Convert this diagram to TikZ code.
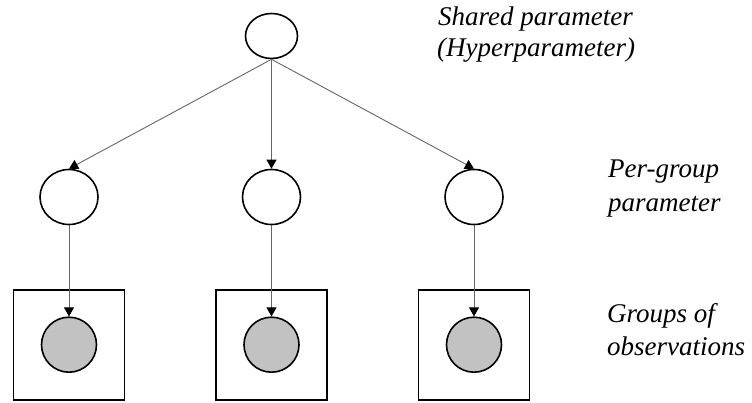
\documentclass[tikz,border=0pt]{standalone}
\usepackage{fontspec}
\setmainfont{Liberation Serif}
\usetikzlibrary{shapes.geometric,arrows.meta}

\tikzset{
  param/.style={ellipse, draw=black, line width=1.6pt, fill=white, inner sep=0pt},
  obs/.style={ellipse, draw=black, line width=1.6pt, fill=lightgray!95!white, inner sep=0pt,
    minimum width=55pt, minimum height=55pt},
  groupbox/.style={rectangle, draw=black, line width=1.5pt, inner sep=0pt,
    minimum width=111pt, minimum height=110pt},
  link/.style={draw=black!60, line width=0.9pt,
    -{Triangle[length=9pt,width=10pt,color=black]}},
  caption/.style={anchor=base west, inner sep=0pt,
    font=\fontsize{27}{32}\selectfont\itshape}
}

\begin{document}
\begin{tikzpicture}[x=1pt,y=-1pt]
  \useasboundingbox (0,0) rectangle (752,403);

  % hyperparameter
  \node[param, minimum width=52pt, minimum height=45pt] (hyper) at (271.5,36) {};

  % per-group parameters
  \node[param, minimum width=58pt, minimum height=55pt] (p1) at (69,197) {};
  \node[param, minimum width=58pt, minimum height=55pt] (p2) at (271.5,197) {};
  \node[param, minimum width=58pt, minimum height=55pt] (p3) at (474,197) {};

  % observation groups
  \node[groupbox] (b1) at (69,345) {};
  \node[groupbox] (b2) at (271.5,345) {};
  \node[groupbox] (b3) at (474.2,345) {};
  \node[obs] (o1) at (69,344.7) {};
  \node[obs] (o2) at (271.5,344.7) {};
  \node[obs] (o3) at (474,344.7) {};

  % dependencies
  \draw[link] (hyper.south) -- (p1.north);
  \draw[link] (hyper.south) -- (p2.north);
  \draw[link] (hyper.south) -- (p3.north);
  \draw[link] (p1.south) -- (o1.north);
  \draw[link] (p2.south) -- (o2.north);
  \draw[link] (p3.south) -- (o3.north);

  % level captions
  \node[caption] (c1a) at (438,26) {Shared parameter};
  \node[caption] (c1b) at (437,57) {(Hyperparameter)};
  \node[caption] (c2a) at (608,178) {Per-group};
  \node[caption] (c2b) at (608,212) {parameter};
  \node[caption] (c3a) at (607,322) {Groups of};
  \node[caption] (c3b) at (607,355) {observations};
\end{tikzpicture}
\end{document}
